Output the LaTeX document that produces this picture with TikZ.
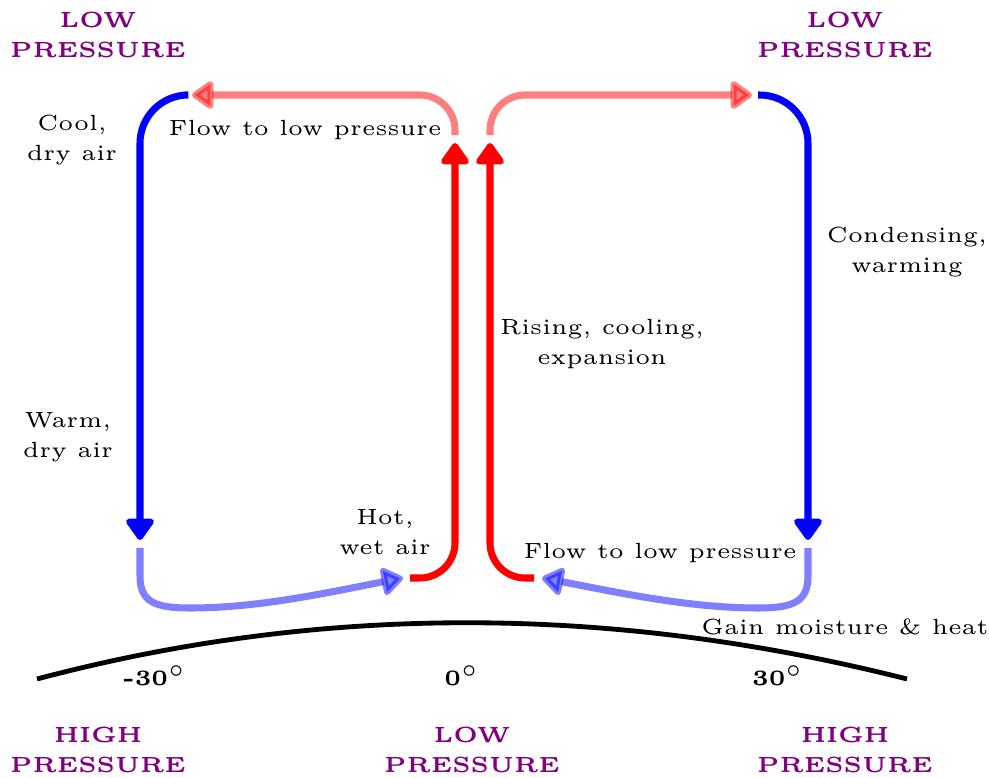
\documentclass[tikz,border=0pt]{standalone}
\usetikzlibrary{arrows.meta}
\definecolor{press}{RGB}{128,0,128}
\tikzset{flow/.style={line width=1.6pt, rounded corners=11pt, -{Triangle[round,length=5.4pt,width=7.2pt]}},
    weak/.style={opacity=0.5},
    txt/.style={font=\tiny, align=center},
    pressure/.style={txt, font=\tiny\bfseries, text=press},
    lat/.style={font=\tiny\bfseries}}

\begin{document}
\begin{tikzpicture}[x=0.8cm,y=0.8cm]
        \useasboundingbox (0,0) rectangle (9.89,7.78);

        \draw[line width=1.1pt](0.37,0.99) .. controls (3.2,1.74) and (6.1,1.74) .. (9.07,0.99);

        \node[lat](south)at(1.55,1.02){-30$^\circ$};
        \node[lat](equator)at(4.62,1.02){0$^\circ$};
        \node[lat](north)at(7.78,1.02){30$^\circ$};

        \node[pressure](lowtl)at(0.98,7.43){LOW\\[0.9pt]PRESSURE};
        \node[pressure](lowtr)at(8.45,7.43){LOW\\[0.9pt]PRESSURE};
        \node[pressure](highbl)at(0.98,0.28){HIGH\\[0.9pt]PRESSURE};
        \node[pressure](lowbm)at(4.72,0.28){LOW\\[0.9pt]PRESSURE};
        \node[pressure](highbr)at(8.45,0.28){HIGH\\[0.9pt]PRESSURE};

        \coordinate(a1)at(1.85,6.83);
        \coordinate(a2)at(1.40,2.38);
        \coordinate(b1)at(1.40,2.30);
        \coordinate(b2)at(4.03,2.00);
        \coordinate(c1)at(4.10,2.00);
        \coordinate(c2)at(4.55,6.35);
        \coordinate(d1)at(4.55,6.43);
        \coordinate(d2)at(1.92,6.83);

        \coordinate(e1)at(5.34,2.00);
        \coordinate(e2)at(4.90,6.35);
        \coordinate(f1)at(4.90,6.43);
        \coordinate(f2)at(7.52,6.83);
        \coordinate(g1)at(7.58,6.83);
        \coordinate(g2)at(8.08,2.38);
        \coordinate(h1)at(8.08,2.30);
        \coordinate(h2)at(5.42,2.00);

        \draw[flow, blue](a1) -| (a2);
        \draw[flow, blue, weak, sharp corners](b1) -- (1.40,2.02) .. controls (1.40,1.76) and (1.55,1.70) .. (1.90,1.70) .. controls (2.6,1.70) and (3.3,1.86) .. (b2);
        \draw[flow, red, rounded corners=8pt](c1) -| (c2);
        \draw[flow, red, weak, rounded corners=8pt](d1) |- (d2);

        \draw[flow, red, rounded corners=8pt](e1) -| (e2);
        \draw[flow, red, weak, rounded corners=8pt](f1) |- (f2);
        \draw[flow, blue](g1) -| (g2);
        \draw[flow, blue, weak, sharp corners](h1) -- (8.08,2.02) .. controls (8.08,1.76) and (7.93,1.70) .. (7.58,1.70) .. controls (6.88,1.70) and (6.16,1.86) .. (h2);

        \node[txt](cool)at(0.72,6.38){Cool,\\[0.9pt]dry air};
        \node[txt](flowleft)at(3.05,6.48){Flow to low pressure};
        \node[txt](warm)at(0.68,3.41){Warm,\\[0.9pt]dry air};
        \node[txt](hot)at(3.85,2.46){Hot,\\[0.9pt]wet air};
        \node[txt](rising)at(6.02,4.34){Rising, cooling,\\[0.9pt]expansion};
        \node[txt](condensing)at(9.07,5.26){Condensing,\\[0.9pt]warming};
        \node[txt](flowright)at(6.60,2.25){Flow to low pressure};
        \node[txt](gain)at(8.45,1.51){Gain moisture \& heat};
    \end{tikzpicture}
\end{document}
